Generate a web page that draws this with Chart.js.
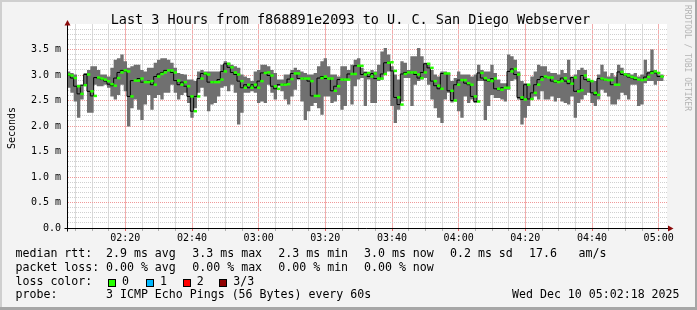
<!DOCTYPE html>
<html>
<head>
<meta charset="utf-8">
<script src="https://cdn.jsdelivr.net/npm/chart.js@4.4.1/dist/chart.umd.min.js"></script>
<style>
  html, body { margin: 0; padding: 0; overflow: hidden; }
  #wrap { position: relative; width: 697px; height: 310px; background: #f3f3f3; overflow: hidden; }
  #c { position: absolute; left: 0; top: 0; }
  .t { position: absolute; font-family: 'DejaVu Sans Mono', monospace; white-space: pre; line-height: 1; color: #000; }
  .leg { font-size: 11.6px; }
  .box { position: absolute; width: 6px; height: 6px; border: 1px solid #000; }
  .edge { position: absolute; }
</style>
</head>
<body>
<div id="wrap">
  <canvas id="c" width="697" height="310"></canvas>
  <div class="edge" style="left:0;top:0;width:697px;height:2px;background:#cfcfcf"></div>
  <div class="edge" style="left:0;top:0;width:2px;height:310px;background:#cfcfcf"></div>
  <div class="edge" style="left:695px;top:0;width:2px;height:310px;background:#a6a6a6"></div>
  <div class="edge" style="left:0;top:307px;width:697px;height:3px;background:#a6a6a6"></div>

  <div class="t" style="left:110.7px;top:12.6px;font-size:13.5px">Last 3 Hours from f868891e2093 to U. C. San Diego Webserver</div>
  <div class="t" style="left:7px;top:149px;font-size:10px;transform:rotate(-90deg);transform-origin:0 0">Seconds</div>
  <div class="t" style="left:691px;top:5px;font-size:8px;color:#b4b4b4;transform:rotate(90deg);transform-origin:0 0">RRDTOOL / TOBI OETIKER</div>

  <div class="t leg" style="left:15.5px;top:247.5px">median rtt:</div>
  <div class="t leg" style="left:106px;top:247.5px">2.9 ms avg</div>
  <div class="t leg" style="left:192.3px;top:247.5px">3.3 ms max</div>
  <div class="t leg" style="left:278.3px;top:247.5px">2.3 ms min</div>
  <div class="t leg" style="left:364px;top:247.5px">3.0 ms now</div>
  <div class="t leg" style="left:450px;top:247.5px">0.2 ms sd</div>
  <div class="t leg" style="left:529px;top:247.5px">17.6</div>
  <div class="t leg" style="left:578.5px;top:247.5px">am/s</div>

  <div class="t leg" style="left:15.5px;top:261.5px">packet loss:</div>
  <div class="t leg" style="left:106px;top:261.5px">0.00 % avg</div>
  <div class="t leg" style="left:192.3px;top:261.5px">0.00 % max</div>
  <div class="t leg" style="left:278.3px;top:261.5px">0.00 % min</div>
  <div class="t leg" style="left:364px;top:261.5px">0.00 % now</div>

  <div class="t leg" style="left:15.5px;top:275.5px">loss color:</div>
  <div class="box" style="left:108px;top:279px;background:#26ff00"></div>
  <div class="t leg" style="left:122px;top:275.5px">0</div>
  <div class="box" style="left:145.5px;top:279px;background:#00b8ff"></div>
  <div class="t leg" style="left:160px;top:275.5px">1</div>
  <div class="box" style="left:182.5px;top:279px;background:#ff0000"></div>
  <div class="t leg" style="left:196.7px;top:275.5px">2</div>
  <div class="box" style="left:219px;top:279px;background:#8f0000"></div>
  <div class="t leg" style="left:233.3px;top:275.5px">3/3</div>

  <div class="t leg" style="left:15.5px;top:289.2px">probe:</div>
  <div class="t leg" style="left:106px;top:289.2px">3 ICMP Echo Pings (56 Bytes) every 60s</div>
  <div class="t leg" style="left:512px;top:289.2px">Wed Dec 10 05:02:18 2025</div>
</div>
<script>
// ---- data (milliseconds), one value per minute starting 02:02:30 ----
const startTime = '02:02:30';
const rttMax = [
3.07,3.07,3.04,3.01,2.81,2.81,3.04,3.10,3.17,3.17,
3.10,3.01,3.01,2.97,3.14,3.30,3.33,3.40,3.27,3.14,
3.17,3.20,3.20,3.10,3.07,3.14,3.14,3.24,3.30,3.33,
3.33,3.30,3.24,3.14,3.04,3.02,3.01,2.91,2.91,2.88,
3.07,3.10,3.07,3.07,3.07,3.07,3.07,3.20,3.27,3.24,
3.20,3.17,3.14,3.01,2.97,2.94,2.88,3.07,3.10,3.20,
3.20,3.17,3.10,3.04,2.91,2.91,3.01,3.01,3.10,3.14,
3.10,3.07,3.04,3.01,3.01,3.04,3.17,3.27,3.33,3.17,
3.01,3.01,2.97,3.17,3.17,3.10,3.20,3.30,3.33,3.14,
3.07,3.04,3.10,3.07,3.20,3.46,3.53,3.40,3.17,3.01,
2.91,3.27,3.24,3.10,3.37,3.37,3.53,3.37,3.24,3.20,
3.10,3.01,2.97,3.07,3.07,3.04,2.88,2.94,3.07,3.01,
3.01,3.01,2.97,3.01,3.20,3.10,3.07,3.07,3.20,3.04,
2.91,2.84,2.84,3.40,3.37,3.30,3.07,2.88,2.84,2.81,
2.97,3.07,3.20,3.17,3.17,3.07,3.04,3.04,3.01,3.10,
3.04,3.30,2.97,3.01,3.10,3.14,3.10,2.91,2.88,2.88,
3.01,3.20,3.07,2.97,3.04,2.97,3.20,3.14,3.04,3.04,
3.01,3.04,2.97,3.01,3.30,3.07,3.50,3.10,3.01];
const rttMin = [
2.42,2.75,2.65,2.48,2.16,2.52,2.81,2.26,2.26,2.81,
2.78,2.78,2.81,2.75,2.58,2.52,2.61,2.81,2.68,1.99,
2.35,2.52,2.32,2.12,2.42,2.61,2.32,2.55,2.61,2.52,
2.65,2.65,2.81,2.65,2.52,2.61,2.65,2.45,2.16,2.35,
2.65,2.75,2.58,2.29,2.42,2.45,2.58,2.75,2.78,2.68,
2.81,2.65,2.03,2.26,2.65,2.65,2.68,2.65,2.45,2.48,
2.45,2.81,2.65,2.52,2.78,2.68,2.52,2.42,2.58,2.71,
2.91,2.48,2.12,2.29,2.39,2.45,2.35,2.22,2.58,2.58,
2.45,2.48,2.61,2.32,2.39,2.91,2.42,2.78,2.91,2.94,
2.39,2.91,2.45,2.45,2.88,2.91,3.01,3.07,2.39,2.06,
2.32,2.48,2.94,2.94,2.39,2.81,2.88,2.91,2.94,2.81,
2.52,2.35,2.16,2.06,2.52,2.65,2.46,2.52,2.29,2.16,
2.58,2.45,2.52,2.45,2.88,2.88,2.12,2.39,2.61,2.55,
2.55,2.52,2.48,2.71,2.88,2.91,2.52,2.03,2.16,2.39,
2.52,2.58,2.52,2.68,2.52,2.52,2.58,2.48,2.55,2.48,
2.45,2.42,2.58,2.16,2.45,2.52,2.61,2.65,2.45,2.39,
2.52,2.71,2.65,2.58,2.42,2.42,2.52,2.65,2.61,2.52,
2.81,2.81,2.39,2.42,2.84,2.88,2.88,2.81,2.88];
const rttMedian = [
3.01,2.99,2.94,2.78,2.63,2.80,3.01,2.68,2.59,2.95,
2.93,2.91,2.88,2.82,2.79,2.94,3.05,3.09,3.07,2.58,
2.89,2.89,2.93,2.86,2.86,2.88,2.81,2.97,3.02,3.05,
3.09,3.09,3.05,2.89,2.81,2.86,2.78,2.58,2.29,2.58,
2.93,3.03,3.01,2.86,2.86,2.86,2.91,3.07,3.22,3.15,
3.05,3.01,2.88,2.75,2.81,2.75,2.81,2.75,2.88,3.04,
3.05,2.99,2.78,2.73,2.81,2.81,2.82,2.92,3.03,3.03,
2.93,2.93,2.93,2.88,2.59,2.59,2.94,2.97,2.93,2.93,
2.69,2.78,2.91,2.91,2.91,3.02,3.02,3.18,3.18,3.01,
3.04,2.97,3.03,2.93,2.93,3.02,3.24,3.25,3.08,2.56,
2.42,3.02,3.05,3.05,3.05,3.01,2.94,3.05,3.22,3.14,
2.88,2.79,2.73,3.03,3.03,2.69,2.50,2.81,2.90,2.90,
2.84,2.81,2.58,2.48,3.04,2.94,2.90,2.88,2.93,2.73,
2.71,2.75,2.75,3.07,3.12,3.01,2.56,2.52,2.81,2.53,
2.65,2.81,2.91,2.97,2.95,2.95,2.88,2.86,2.88,2.94,
2.88,2.83,2.95,2.68,2.70,2.99,2.91,2.88,2.65,2.61,
2.93,2.91,2.90,2.90,2.81,2.81,3.06,3.01,2.99,2.96,
2.94,2.91,2.90,2.91,2.96,3.04,3.07,3.04,2.97];

const xTickLabels = ['02:20','02:40','03:00','03:20','03:40','04:00','04:20','04:40','05:00'];
const yTickLabels = ['0.0','0.5 m','1.0 m','1.5 m','2.0 m','2.5 m','3.0 m','3.5 m'];

// ---- helpers ----
function toMin(s) { const p = s.split(':').map(Number); return p[0]*60 + p[1] + (p[2]||0)/60; }
const t0 = toMin(startTime);
const spanMin = 180;
const majorX = xTickLabels.map(l => toMin(l) - t0);
const xGrid = [];
for (let v = majorX[0] - 15; v < spanMin; v += 5) xGrid.push(Math.round(v*1000)/1000);
const yGrid = [];
for (let k = 1; k < 40; k++) yGrid.push(k/10);
const near = (a, b) => Math.abs(a - b) < 1e-6;
const isMajorX = v => majorX.some(m => near(m, v));
const isMajorY = v => near(v*2, Math.round(v*2));
const MAJOR = '#f09a9a';
const MINOR = '#d0d0d0';
const MAJOR_V = '#f3adad';
const MINOR_V = '#dadada';
const FONT = {family: 'DejaVu Sans Mono', size: 10};

// step series: each minute spans [i, i+1]; a closing point repeats the last value
const stepSeries = arr => arr.map((v, i) => ({x: i, y: v})).concat([{x: arr.length, y: arr[arr.length - 1]}]);
const medPoints = rttMedian.map((v, i) => ({x: i + 0.5, y: v}));

const frame = {
  id: 'frame',
  beforeDraw(chart) {
    const {ctx, chartArea: a} = chart;
    ctx.save();
    ctx.fillStyle = '#ffffff';
    ctx.fillRect(a.left, a.top, a.right - a.left, a.bottom - a.top);
    ctx.restore();
  },
  beforeDatasetsDraw(chart) {
    const {ctx, chartArea: a} = chart;
    const xs = chart.scales.x, ys = chart.scales.y;
    const L = Math.round(a.left), R = Math.round(a.right), T = Math.round(a.top), B = Math.round(a.bottom);
    ctx.save();
    // vertical grid: thin light lines
    for (const pass of [false, true]) {
      xGrid.forEach(v => {
        if (isMajorX(v) !== pass) return;
        const px = Math.round(xs.getPixelForValue(v) - 0.5);
        ctx.fillStyle = pass ? MAJOR_V : MINOR_V;
        ctx.fillRect(px, T, 1, B - T);
      });
    }
    // horizontal grid: dotted
    for (const pass of [false, true]) {
      yGrid.forEach(v => {
        if (isMajorY(v) !== pass) return;
        const py = Math.round(ys.getPixelForValue(v) - 0.5);
        ctx.fillStyle = pass ? MAJOR : MINOR;
        for (let px = L + 1; px < R; px += 2) ctx.fillRect(px, py, 1, 1);
      });
    }
    // small tick marks below the time axis
    xGrid.forEach(v => {
      ctx.fillStyle = isMajorX(v) ? '#e06060' : '#b0b0b0';
      ctx.fillRect(Math.round(xs.getPixelForValue(v) - 0.5), B + 1, 1, 2);
    });
    ctx.restore();
  },
  afterDatasetsDraw(chart) {
    const {ctx, chartArea: a} = chart;
    const L = Math.round(a.left) + 0.5, B = Math.round(a.bottom) + 0.5;
    ctx.save();
    ctx.strokeStyle = '#000'; ctx.lineWidth = 1;
    ctx.beginPath();
    ctx.moveTo(L - 3, B); ctx.lineTo(a.right + 2, B);
    ctx.moveTo(L, B + 3); ctx.lineTo(L, a.top - 1);
    ctx.stroke();
    ctx.fillStyle = '#8b0a0a';
    ctx.beginPath(); ctx.moveTo(L, a.top - 4); ctx.lineTo(L - 3, a.top + 1.5); ctx.lineTo(L + 3, a.top + 1.5); ctx.closePath(); ctx.fill();
    ctx.beginPath(); ctx.moveTo(a.right + 6.5, B); ctx.lineTo(a.right + 1, B - 3); ctx.lineTo(a.right + 1, B + 3); ctx.closePath(); ctx.fill();
    ctx.restore();
  }
};

new Chart(document.getElementById('c'), {
  type: 'line',
  data: {
    datasets: [
      { data: medPoints, order: 1, showLine: false,
        pointStyle: 'line', pointRadius: 1.7, pointBorderWidth: 2.5,
        pointBorderColor: '#26ff00', pointBackgroundColor: '#26ff00', borderColor: '#26ff00' },
      { data: stepSeries(rttMedian), order: 2, stepped: 'after', borderColor: '#000000',
        borderWidth: 1, pointRadius: 0, fill: false },
      { data: stepSeries(rttMax), order: 3, stepped: 'after', borderWidth: 0,
        borderColor: 'rgba(0,0,0,0)', pointRadius: 0, fill: '+1', backgroundColor: '#707070' },
      { data: stepSeries(rttMin), order: 4, stepped: 'after', borderWidth: 0,
        borderColor: 'rgba(0,0,0,0)', pointRadius: 0, fill: false }
    ]
  },
  options: {
    responsive: false, animation: false, events: [],
    layout: { padding: { left: 0, right: 30, top: 24, bottom: 66 } },
    plugins: { legend: { display: false }, tooltip: { enabled: false }, title: { display: false } },
    scales: {
      x: {
        type: 'linear', min: 0, max: spanMin, offset: false,
        afterBuildTicks: s => { s.ticks = xGrid.map(v => ({ value: v })); },
        afterFit: s => { s.height = 16; },
        grid: { color: 'rgba(0,0,0,0)', drawTicks: false },
        border: { display: false },
        ticks: { autoSkip: false, maxRotation: 0, minRotation: 0, padding: 4, color: '#000', font: FONT,
          callback: v => { const i = majorX.findIndex(m => near(m, v)); return i >= 0 ? xTickLabels[i] : ''; } }
      },
      y: {
        type: 'linear', min: 0, max: 4,
        afterBuildTicks: s => { s.ticks = [0].concat(yGrid).map(v => ({ value: v })); },
        afterFit: s => { s.width = 67; },
        grid: { color: 'rgba(0,0,0,0)', drawTicks: false },
        border: { display: false },
        ticks: { padding: 6, color: '#000', font: FONT, autoSkip: false,
          callback: v => isMajorY(v) ? (yTickLabels[Math.round(v*2)] || '') : '' }
      }
    }
  },
  plugins: [frame]
});
</script>
</body>
</html>
